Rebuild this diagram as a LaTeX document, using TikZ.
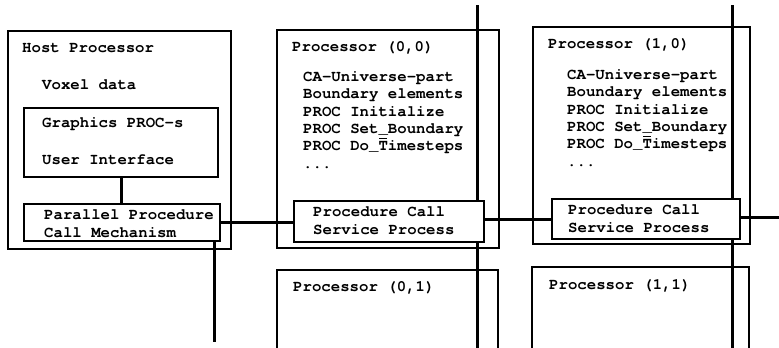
\documentclass[tikz,border=0pt]{standalone}
\usepackage{fontspec}
\setmonofont{TeX Gyre Cursor}
\newcommand\barT{\rlap{\hspace{0.05em}\rule[0.72em]{0.5em}{0.07em}}T}
\begin{document}
\begin{tikzpicture}[x=1pt,y=-1pt,
  box/.style={draw=black,line width=1.6pt,fill=white,inner sep=0,anchor=north west},
  wire/.style={draw=black,line width=3pt},
  edge/.style={draw=black,line width=1.6pt},
  txt/.style={inner sep=0,anchor=base west,font=\fontsize{15.7}{17.3}\selectfont\ttfamily\bfseries,align=left}]
\useasboundingbox (0,0) rectangle (779,348);
% background wires
\coordinate (v1t) at (477,5); \coordinate (v1b) at (477,348);
\coordinate (v2t) at (732,5); \coordinate (v2b) at (732,348);
\coordinate (rend) at (779,217);
% outer boxes
\node[box,minimum width=223,minimum height=218] (host) at (7,30) {};
\node[box,minimum width=222,minimum height=218] (p00) at (276,29) {};
\node[box,minimum width=217,minimum height=217] (p10) at (532,26) {};
\draw[edge] (277,348) -- (277,270) -- (498,270) -- (498,348);
\draw[edge] (532,348) -- (532,267) -- (749,267) -- (749,348);
\coordinate (p01) at (277,270);
\coordinate (p11) at (532,267);
% vertical wires
\draw[wire] (v1t) -- (v1b);
\draw[wire] (v2t) -- (v2b);
% inner boxes
\node[box,minimum width=194,minimum height=69] (gfx) at (23,107) {};
\node[box,minimum width=196,minimum height=37] (ppc) at (23,203) {};
\node[box,minimum width=190,minimum height=41] (pcs0) at (293,200) {};
\node[box,minimum width=188,minimum height=40] (pcs1) at (551,198) {};
% connectors
\draw[wire] (gfx.south -| 121,0) -- (ppc.north -| 121,0);
\coordinate (ppcdown) at (214,342);
\draw[wire] (ppc.south -| ppcdown) -- (ppcdown);
\draw[wire] (ppc.east |- 0,222) -- (pcs0.west |- 0,222);
\draw[wire] (pcs0.east |- 0,219) -- (pcs1.west |- 0,219);
\draw[wire] (pcs1.east |- rend) -- (rend);
% texts
\node[txt] (t1) at (22,52) {Host Processor};
\node[txt] (t2) at (42,89) {Voxel data};
\node[txt] (t3) at (42,127) {Graphics PROC-s};
\node[txt] (t4) at (42,164) {User Interface};
\node[txt] (t5) at (44,237) {Parallel Procedure\\Call Mechanism};
\node[txt] (a0) at (292,51) {Processor (0,0)};
\node[txt] (a1) at (303,168) {CA-Universe-part\\Boundary elements\\PROC Initialize\\PROC Set\_Boundary\\PROC Do\_\barT imesteps\\...};
\node[txt] (a2) at (313,234) {Procedure Call\\Service Process};
\node[txt] (b0) at (548,48) {Processor (1,0)};
\node[txt] (b1) at (567,166) {CA-Universe-part\\Boundary elements\\PROC Initialize\\PROC Set\_Boundary\\PROC Do\_\barT imesteps\\...};
\node[txt] (b2) at (568,232) {Procedure Call\\Service Process};
\node[txt] (c0) at (293,291) {Processor (0,1)};
\node[txt] (d0) at (549,289) {Processor (1,1)};
\end{tikzpicture}
\end{document}
